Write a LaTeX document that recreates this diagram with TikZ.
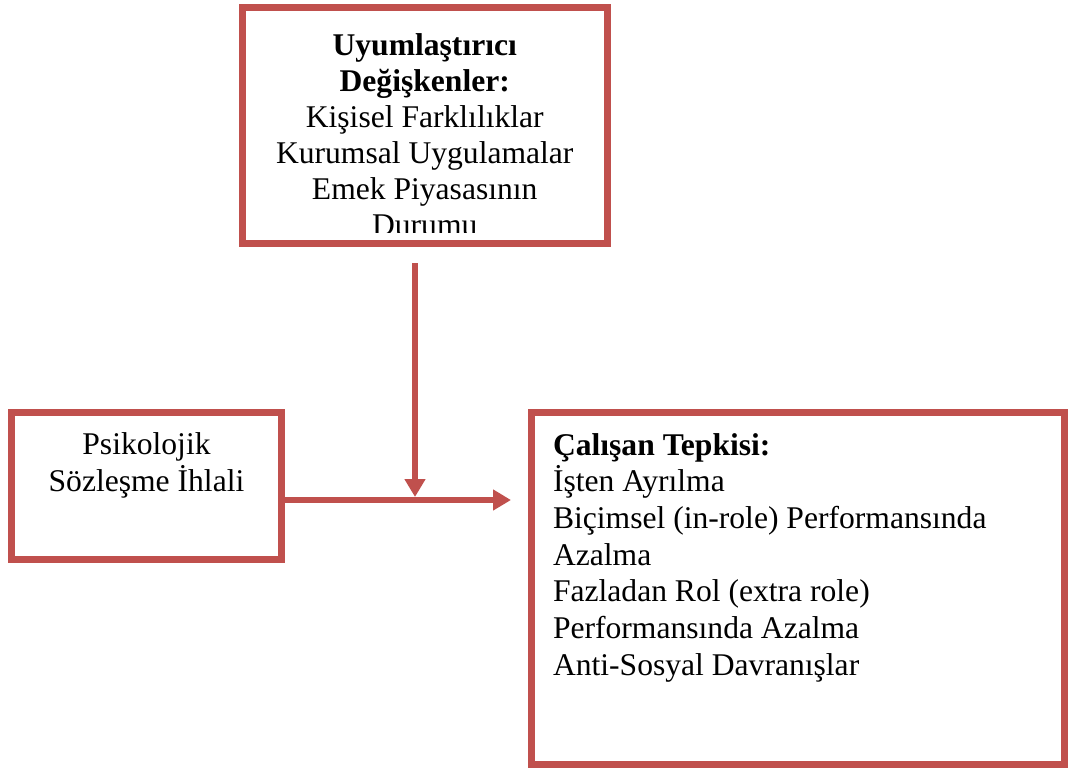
\documentclass[tikz,border=0pt]{standalone}
\usepackage{fontspec}
\setmainfont{Liberation Serif}
\usetikzlibrary{arrows.meta,calc}
\definecolor{boxred}{HTML}{C0504D}
\tikzset{
  box/.style={draw=boxred, line width=7pt, outer sep=0pt, inner sep=0pt, rectangle},
  arr/.style={draw=boxred, line width=6.5pt, -{Triangle[length=18pt,width=20pt]}},
  txt/.style={inner sep=0pt, outer sep=0pt, font=\fontsize{31.6}{35}\selectfont}
}
\begin{document}
\begin{tikzpicture}[x=1pt,y=-1pt]
\useasboundingbox (0,0) rectangle (1069,769);
% boxes
\node[box, minimum width=364.5pt, minimum height=236.5pt] (mod) at (424.75,125.25) {};
\node[box, minimum width=269.5pt, minimum height=147.5pt] (left) at (146.25,485.75) {};
\node[box, minimum width=533.5pt, minimum height=352.5pt] (resp) at (797.75,588.25) {};
% texts
\begin{scope}
\clip ($(mod.south west)+(3.5,-11.5)$) rectangle ($(mod.north east)+(-3.5,3.5)$);
\node[txt, anchor=base] (modtext) at (424.75,55) {\vtop{\baselineskip=36pt\halign{\hfil#\hfil\cr
\textbf{Uyumlaştırıcı}\cr
\textbf{Değişkenler:}\cr
Kişisel Farklılıklar\cr
Kurumsal Uygulamalar\cr
Emek Piyasasının\cr
Durumu\cr}}};
\end{scope}
\node[txt, anchor=base] (lefttext) at (146.5,454.5) {\vtop{\baselineskip=37pt\halign{\hfil#\hfil\cr
Psikolojik\cr
Sözleşme İhlali\cr}}};
\node[txt, anchor=base west] (resptext) at (553,455) {\vtop{\baselineskip=36.7pt\halign{#\hfil\cr
\textbf{Çalışan Tepkisi:}\cr
İşten Ayrılma\cr
Biçimsel (in-role) Performansında\cr
Azalma\cr
Fazladan Rol (extra role)\cr
Performansında Azalma\cr
Anti-Sosyal Davranışlar\cr}}};
% connectors
\coordinate (join) at (415,500);
\coordinate (vs) at ($(mod.south -| join)+(0,19.5)$);
\coordinate (vtip) at ($(join)+(0,-3)$);
\coordinate (htip) at ($(resp.west |- join)+(-20,0)$);
\draw[arr] (vs) -- (vtip);
\draw[arr] (left.east |- join) -- (htip);
\end{tikzpicture}
\end{document}
